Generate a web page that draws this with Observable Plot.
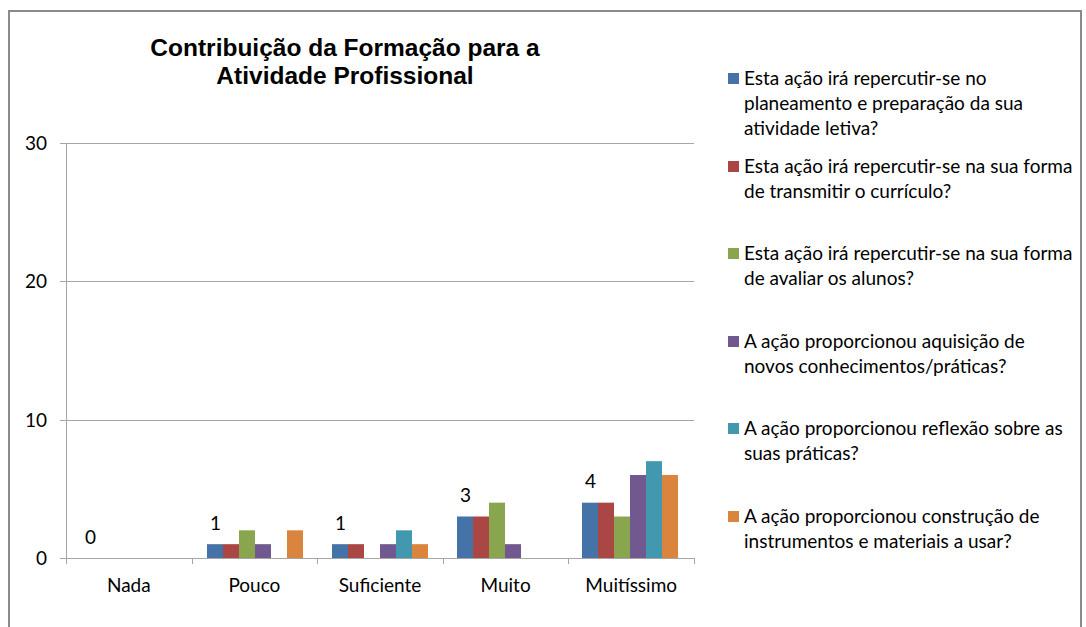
<!DOCTYPE html>
<html>
<head>
<meta charset="utf-8">
<script src="https://cdn.jsdelivr.net/npm/d3@7"></script>
<script src="https://cdn.jsdelivr.net/npm/@observablehq/plot@0.6"></script>
<style>
  html, body { margin: 0; padding: 0; background: #fff; overflow: hidden; }
  #wrap { position: relative; width: 1086px; height: 627px; overflow: hidden; }
  #frame { position: absolute; left: 8px; top: 10px; width: 1074px; height: 700px; border: 2px solid #8a8a8a; box-sizing: border-box; }
  #title { position: absolute; left: 95px; top: 34px; width: 500px; text-align: center; font-family: "Liberation Sans", Arial, sans-serif; font-weight: bold; font-size: 24.5px; line-height: 28px; color: #000; }
  #chart { position: absolute; left: 0; top: 0; }
  #legend { position: absolute; left: 728px; top: 65px; width: 356px; font-family: Lato, "Open Sans", sans-serif; font-size: 19px; line-height: 25px; color: #000; }
  .item { position: relative; padding-left: 16px; height: 87.5px; white-space: nowrap; }
  .sw { position: absolute; left: 0; top: 8px; width: 11px; height: 11px; }
</style>
</head>
<body>
<div id="wrap">
  <div id="frame"></div>
  <div id="title">Contribuição da Formação para a<br>Atividade Profissional</div>
  <div id="chart"></div>
  <div id="legend"></div>
</div>
<script>
const categories = ["Nada", "Pouco", "Suficiente", "Muito", "Muitíssimo"];
const series = [
  "Esta ação irá repercutir-se no planeamento e preparação da sua atividade letiva?",
  "Esta ação irá repercutir-se na sua forma de transmitir o currículo?",
  "Esta ação irá repercutir-se na sua forma de avaliar os alunos?",
  "A ação proporcionou aquisição de novos conhecimentos/práticas?",
  "A ação proporcionou reflexão sobre as suas práticas?",
  "A ação proporcionou construção de instrumentos e materiais a usar?"
];
const legendLines = [
  ["Esta ação irá repercutir-se no", "planeamento e preparação da sua", "atividade letiva?"],
  ["Esta ação irá repercutir-se na sua forma", "de transmitir o currículo?"],
  ["Esta ação irá repercutir-se na sua forma", "de avaliar os alunos?"],
  ["A ação proporcionou aquisição de", "novos conhecimentos/práticas?"],
  ["A ação proporcionou reflexão sobre as", "suas práticas?"],
  ["A ação proporcionou construção de", "instrumentos e materiais a usar?"]
];
const colors = ["#4572A7", "#AA4643", "#89A54E", "#71588F", "#4198AF", "#DB843D"];
// values per series, one per category
const s1 = [0, 1, 1, 3, 4];
const s2 = [0, 1, 1, 3, 4];
const s3 = [0, 2, 0, 4, 3];
const s4 = [0, 1, 1, 1, 6];
const s5 = [0, 0, 2, 0, 7];
const s6 = [0, 2, 1, 0, 6];
const values = [s1, s2, s3, s4, s5, s6];
const yTicks = [0, 10, 20, 30];

const data = [];
categories.forEach((c, ci) => {
  series.forEach((s, si) => {
    data.push({cat: c, ser: s, v: values[si][ci]});
  });
});
const labelData = categories.map((c, ci) => ({cat: c, ser: series[0], v: s1[ci]}));

const W = 700, H = 627;
const mL = 66, mR = 6, mT = 143, mB = 69;
const x0 = mL, x1 = W - mR, yBase = H - mB;
const FONT = "Lato, Open Sans, sans-serif";

const plot = Plot.plot({
  width: W, height: H,
  marginLeft: mL, marginRight: mR, marginTop: mT, marginBottom: mB,
  style: {background: "transparent", overflow: "visible"},
  fx: {domain: categories, paddingInner: 0.2, paddingOuter: 0.1, axis: null},
  x: {domain: series, padding: 0, axis: null},
  y: {domain: [0, 30], ticks: yTicks, axis: null},
  color: {domain: series, range: colors},
  marks: [
    Plot.barY(data, {fx: "cat", x: "ser", y: "v", fill: "ser"}),
    Plot.text(labelData, {fx: "cat", x: "ser", y: "v", text: d => String(d.v), dy: -21, fill: "#000", fontSize: 19, fontFamily: FONT}),
  ]
});

const yScale = plot.scale("y");
const svg = d3.select(plot);
const grid = svg.insert("g", ":first-child");
yTicks.filter(t => t > 0).forEach(t => {
  const y = Math.round(yScale.apply(t)) + 0.5;
  grid.append("line").attr("x1", x0).attr("x2", x1).attr("y1", y).attr("y2", y).attr("stroke", "#a6a6a6");
});
const g = svg.append("g");
g.append("line").attr("x1", x0 + 0.5).attr("x2", x0 + 0.5).attr("y1", mT).attr("y2", yBase).attr("stroke", "#a6a6a6");
yTicks.forEach(t => {
  const y = Math.round(yScale.apply(t)) + 0.5;
  g.append("line").attr("x1", x0 - 6).attr("x2", x0).attr("y1", y).attr("y2", y).attr("stroke", "#a6a6a6");
  g.append("text").attr("x", x0 - 19).attr("y", y).attr("dy", "0.35em").attr("text-anchor", "end")
    .attr("font-family", FONT).attr("font-size", 19).attr("fill", "#000").text(t);
});
g.append("line").attr("x1", x0).attr("x2", x1).attr("y1", yBase + 0.5).attr("y2", yBase + 0.5).attr("stroke", "#a6a6a6");
const bw = (x1 - x0) / categories.length;
d3.range(categories.length + 1).forEach(i => {
  const x = Math.round(x0 + i * bw) + 0.5;
  g.append("line").attr("x1", x).attr("x2", x).attr("y1", yBase).attr("y2", yBase + 6).attr("stroke", "#a6a6a6");
});
categories.forEach((c, i) => {
  const cx = x0 + (i + 0.5) * bw;
  g.append("text").attr("x", cx).attr("y", yBase + 27).attr("dy", "0.35em").attr("text-anchor", "middle")
    .attr("font-family", FONT).attr("font-size", 19).attr("fill", "#000").text(c);
});

document.getElementById("chart").appendChild(plot);

const legend = document.getElementById("legend");
series.forEach((s, i) => {
  const item = document.createElement("div");
  item.className = "item";
  const sw = document.createElement("span");
  sw.className = "sw";
  sw.style.background = colors[i];
  item.appendChild(sw);
  const txt = document.createElement("div");
  txt.innerHTML = legendLines[i].join("<br>");
  item.appendChild(txt);
  legend.appendChild(item);
});
</script>
</body>
</html>
